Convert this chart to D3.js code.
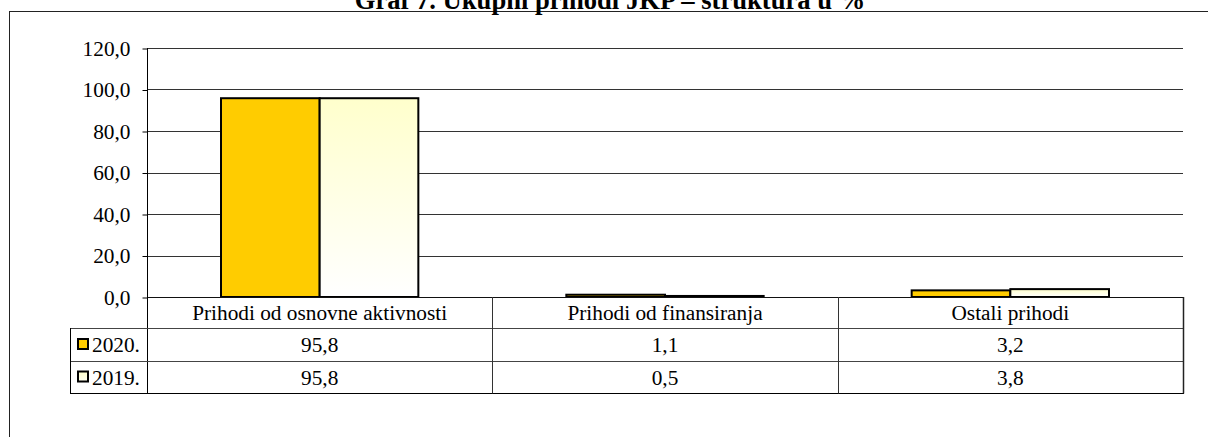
<!DOCTYPE html>
<html><head><meta charset="utf-8">
<script src="https://cdn.jsdelivr.net/npm/d3@7"></script>
<style>body{margin:0;background:#fff}svg{display:block}text{font-family:"Liberation Serif","Times New Roman",serif}</style>
</head><body><svg id="c" width="1208" height="437"></svg>
<script>
const title = "Graf 7. Ukupni prihodi JKP – struktura u %";
const categories = ["Prihodi od osnovne aktivnosti", "Prihodi od finansiranja", "Ostali prihodi"];
const seriesNames = ["2020.", "2019."];
const values2020 = [95.8, 1.1, 3.2];
const values2019 = [95.8, 0.5, 3.8];
const yTicks = [0, 20, 40, 60, 80, 100, 120];

const series = [
  {name: seriesNames[0], values: values2020, fill: "#FFCC00"},
  {name: seriesNames[1], values: values2019, fill: "url(#g2019)"}
];
const fmt = v => d3.format(".1f")(v).replace(".", ",");

const svg = d3.select("#c");
const defs = svg.append("defs");
const g = defs.append("linearGradient").attr("id", "g2019").attr("x1", 0).attr("y1", 0).attr("x2", 0).attr("y2", 1);
g.append("stop").attr("offset", "0%").attr("stop-color", "#FFFFCC");
g.append("stop").attr("offset", "100%").attr("stop-color", "#FFFFFF");
const lg = defs.append("linearGradient").attr("id", "gl2019").attr("x1", 0).attr("y1", 0).attr("x2", 0).attr("y2", 1);
lg.append("stop").attr("offset", "0%").attr("stop-color", "#FFFFCC");
lg.append("stop").attr("offset", "100%").attr("stop-color", "#FFFFF0");

// outer frame
svg.append("rect").attr("x", 9.5).attr("y", 11.5).attr("width", 1210).attr("height", 440)
  .attr("fill", "none").attr("stroke", "#222").attr("stroke-width", 1);

svg.append("text").attr("x", 610).attr("y", 8.5).attr("text-anchor", "middle")
  .attr("font-size", 26.6).attr("font-weight", "bold").text(title);

const pLeft = 147, pRight = 1183, pTop = 48, pBottom = 297;
const y = d3.scaleLinear().domain([0, 120]).range([pBottom, pTop]);
const x0 = d3.scaleBand().domain(categories).range([pLeft, pRight]).padding(0);
const x1 = d3.scaleBand().domain(seriesNames).range([0, x0.bandwidth()]).paddingInner(0).paddingOuter(0.75);

// gridlines
svg.append("g").selectAll("line").data(yTicks.filter(t => t > 0)).join("line")
  .attr("x1", pLeft).attr("x2", pRight)
  .attr("y1", d => Math.round(y(d)) + 0.5).attr("y2", d => Math.round(y(d)) + 0.5)
  .attr("stroke", "#333").attr("stroke-width", 1);

// y axis
const yAxis = d3.axisLeft(y).tickValues(yTicks).tickFormat(fmt).tickSize(5).tickPadding(12);
const ya = svg.append("g").attr("transform", `translate(${pLeft + 0.5},0.5)`).call(yAxis);
ya.select(".domain").remove();
ya.selectAll(".tick line").attr("stroke", "#000");
ya.selectAll(".tick text").attr("font-size", 21.3).attr("font-family", "Liberation Serif").attr("fill", "#000");

// bars
series.forEach(s => {
  svg.append("g").selectAll("rect").data(categories).join("rect")
    .attr("x", (c) => x0(c) + x1(s.name))
    .attr("width", x1.bandwidth())
    .attr("y", (c, i) => y(s.values[i]))
    .attr("height", (c, i) => y(0) - y(s.values[i]))
    .attr("fill", s.fill).attr("stroke", "#000").attr("stroke-width", 2);
});

// table
const rowBottom = 393;
const tableLeft = 70;
const T = svg.append("g").attr("stroke", "#000").attr("stroke-width", 1).attr("fill", "none");
T.append("line").attr("x1", pLeft).attr("x2", pRight).attr("y1", 297.5).attr("y2", 297.5).attr("stroke", "#111");
T.append("line").attr("x1", pLeft + 0.5).attr("x2", pLeft + 0.5).attr("y1", pTop).attr("y2", rowBottom);
[328, 360.5].forEach(r => T.append("line").attr("x1", tableLeft).attr("x2", pRight).attr("y1", Math.round(r) + 0.5).attr("y2", Math.round(r) + 0.5).attr("stroke", "#444"));
T.append("line").attr("x1", tableLeft).attr("x2", pRight + 1).attr("y1", rowBottom + 0.5).attr("y2", rowBottom + 0.5);
T.append("line").attr("x1", tableLeft + 0.5).attr("x2", tableLeft + 0.5).attr("y1", 328).attr("y2", rowBottom + 0.5);
categories.forEach((c, i) => {
  const xx = Math.round(x0(c) + x0.bandwidth()) + 0.5;
  T.append("line").attr("x1", xx).attr("x2", xx).attr("y1", 297).attr("y2", rowBottom + 0.5)
    .attr("stroke", i === categories.length - 1 ? "#222" : "#333").attr("stroke-width", i === categories.length - 1 ? 1.5 : 1);
});

// category labels
svg.append("g").selectAll("text").data(categories).join("text")
  .attr("x", c => x0(c) + x0.bandwidth() / 2).attr("y", 320)
  .attr("text-anchor", "middle").attr("font-size", 21.3).text(c => c);

// data rows
const rowBase = [352, 384.5];
series.forEach((s, si) => {
  svg.append("g").selectAll("text").data(categories).join("text")
    .attr("x", c => x0(c) + x0.bandwidth() / 2).attr("y", rowBase[si])
    .attr("text-anchor", "middle").attr("font-size", 21.3).text((c, i) => fmt(s.values[i]));
  svg.append("rect").attr("x", 78).attr("y", rowBase[si] - 13).attr("width", 10).attr("height", 10)
    .attr("fill", si === 0 ? "#FFCC00" : "url(#gl2019)").attr("stroke", "#000").attr("stroke-width", 2);
  svg.append("text").attr("x", 92).attr("y", rowBase[si]).attr("font-size", 21.3).text(s.name);
});
</script></body></html>
